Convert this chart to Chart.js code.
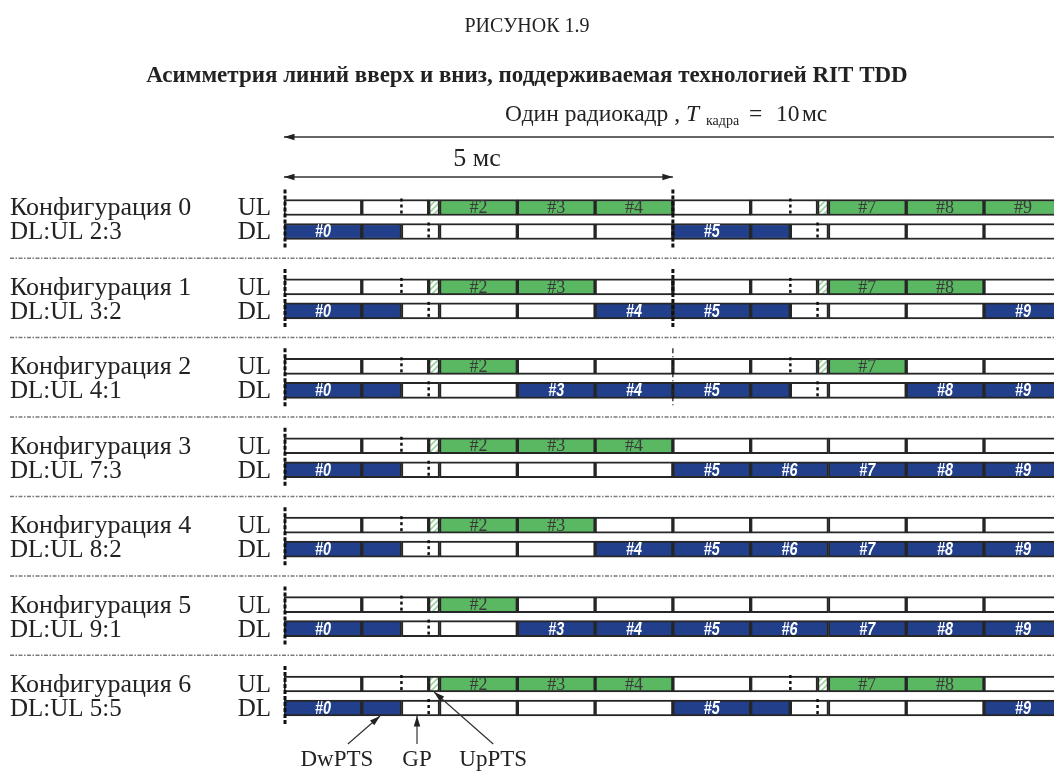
<!DOCTYPE html>
<html>
<head>
<meta charset="utf-8">
<script src="https://cdn.jsdelivr.net/npm/chart.js@4.4.0/dist/chart.umd.min.js"></script>
<style>
html, body { margin: 0; padding: 0; background: #fff; overflow: hidden; }
</style>
</head>
<body>
<canvas id="tdd" width="1054" height="771"></canvas>
<script>
// данные рисунка
var configNames = ['Конфигурация 0', 'Конфигурация 1', 'Конфигурация 2', 'Конфигурация 3',
                   'Конфигурация 4', 'Конфигурация 5', 'Конфигурация 6'];
var ratioLabels = ['DL:UL 2:3', 'DL:UL 3:2', 'DL:UL 4:1', 'DL:UL 7:3',
                   'DL:UL 8:2', 'DL:UL 9:1', 'DL:UL 5:5'];
// D = вниз, U = вверх, S = специальный подкадр
var subframeTypes = ['DSUUUDSUUU', 'DSUUDDSUUD', 'DSUDDDSUDD', 'DSUUUDDDDD',
                     'DSUUDDDDDD', 'DSUDDDDDDD', 'DSUUUDSUUD'];
// граница полукадра: 2 = жирная, 1 = тонкая, 0 = нет
var halfFrameMark = [2, 2, 1, 0, 0, 0, 0];
var dwptsEnd = 0.51;   // доля подкадра
var uptsStart = 0.86;
var halfFrame = 5;     // мс
var visibleEnd = 9.9;  // мс, правый край картинки
var topTitle = 'РИСУНОК 1.9';
var mainTitle = 'Асимметрия линий вверх и вниз, поддерживаемая технологией RIT TDD';
var frameText = ['Один радиокадр ,', 'T', 'кадра', '=', '10', 'мс'];
var halfText = '5 мс';
var partNames = ['DwPTS', 'GP', 'UpPTS'];
var partTargets = [1.235, 1.71, 1.93];  // мс, куда указывают стрелки
var partTextAt = [0.68, 1.71, 2.69];

var configStep = 3.3125;
var green = '#5bb862';
var blue = '#213f8b';
var edge = '#262626';

function hatch() {
    var c = document.createElement('canvas');
    c.width = 6; c.height = 6;
    var g = c.getContext('2d');
    g.fillStyle = '#fff';
    g.fillRect(0, 0, 6, 6);
    g.strokeStyle = '#9ed39f';
    g.lineWidth = 1.6;
    g.beginPath();
    g.moveTo(-1, 7); g.lineTo(7, -1);
    g.moveTo(-4, 4); g.lineTo(4, -4);
    g.moveTo(2, 10); g.lineTo(10, 2);
    g.stroke();
    return g.createPattern(c, 'repeat');
}

var ulFree = [], ulBusy = [], ulPilot = [], dlBusy = [], dlFree = [];
for (var c = 0; c < subframeTypes.length; c++) {
    var yUL = c * configStep;
    var yDL = yUL + 1;
    for (var n = 0; n < 10; n++) {
        var t = subframeTypes[c].charAt(n);
        if (t == 'U') {
            ulBusy.push({x: [n, n + 1], y: yUL, label: '#' + n});
            dlFree.push({x: [n, n + 1], y: yDL});
        } else if (t == 'D') {
            ulFree.push({x: [n, n + 1], y: yUL});
            dlBusy.push({x: [n, n + 1], y: yDL, label: '#' + n});
        } else {
            ulFree.push({x: [n, n + uptsStart], y: yUL});
            ulPilot.push({x: [n + uptsStart, n + 1], y: yUL});
            dlBusy.push({x: [n, n + dwptsEnd], y: yDL});
            dlFree.push({x: [n + dwptsEnd, n + 1], y: yDL});
        }
    }
}

function bars(data, fill) {
    return {
        data: data,
        backgroundColor: fill,
        borderColor: edge,
        borderWidth: 2,
        borderSkipped: false,
        barThickness: 16,
        grouped: false
    };
}

function arrowHead(ctx, x1, y1, x2, y2) {
    var a = Math.atan2(y2 - y1, x2 - x1);
    ctx.beginPath();
    ctx.moveTo(x2, y2);
    ctx.lineTo(x2 - 11 * Math.cos(a - 0.3), y2 - 11 * Math.sin(a - 0.3));
    ctx.lineTo(x2 - 11 * Math.cos(a + 0.3), y2 - 11 * Math.sin(a + 0.3));
    ctx.closePath();
    ctx.fill();
}

function arrow(ctx, x1, y1, x2, y2, both) {
    ctx.beginPath();
    ctx.moveTo(x1, y1);
    ctx.lineTo(x2, y2);
    ctx.stroke();
    arrowHead(ctx, x1, y1, x2, y2);
    if (both) arrowHead(ctx, x2, y2, x1, y1);
}

function vdash(ctx, x, y1, y2, width, dash) {
    ctx.save();
    ctx.lineWidth = width;
    ctx.setLineDash(dash);
    ctx.beginPath();
    ctx.moveTo(x, y1);
    ctx.lineTo(x, y2);
    ctx.stroke();
    ctx.restore();
}

var decor = {
    id: 'decor',
    beforeDraw: function(chart) {
        var ctx = chart.ctx;
        ctx.save();
        ctx.fillStyle = '#fff';
        ctx.fillRect(0, 0, chart.width, chart.height);
        ctx.restore();
    },
    afterDatasetsDraw: function(chart) {
        var ctx = chart.ctx;
        var xs = chart.scales.x, ys = chart.scales.y;
        ctx.save();
        ctx.textAlign = 'center';
        ctx.textBaseline = 'middle';
        // номера подкадров
        chart.data.datasets.forEach(function(ds, i) {
            var meta = chart.getDatasetMeta(i);
            ds.data.forEach(function(d, j) {
                if (!d.label) return;
                var el = meta.data[j];
                var cx = (el.x + el.base) / 2;
                if (ds.backgroundColor == blue) {
                    ctx.save();
                    ctx.fillStyle = '#fff';
                    ctx.font = 'bold italic 18px "Liberation Sans", sans-serif';
                    ctx.translate(cx, el.y + 1);
                    ctx.scale(0.8, 1);
                    ctx.fillText(d.label, 0, 0);
                    ctx.restore();
                } else {
                    ctx.fillStyle = '#3a3a3a';
                    ctx.font = '18px "Liberation Serif", serif';
                    ctx.fillText(d.label, cx, el.y + 1);
                }
            });
        });
        // пунктиры внутри специальных подкадров и границы кадров
        ctx.strokeStyle = '#111';
        for (var c = 0; c < subframeTypes.length; c++) {
            var pu = ys.getPixelForValue(c * configStep);
            var pd = ys.getPixelForValue(c * configStep + 1);
            for (var n = 0; n < 10; n++) {
                if (subframeTypes[c].charAt(n) != 'S') continue;
                vdash(ctx, xs.getPixelForValue(n + dwptsEnd), pu - 9, pu + 9, 2.5, [3, 3]);
                vdash(ctx, xs.getPixelForValue(n + uptsStart), pd - 9, pd + 9, 2.5, [3, 3]);
            }
            vdash(ctx, xs.getPixelForValue(0) + 1, pu - 18, pd + 16, 3, [4, 2]);
            if (halfFrameMark[c] == 2) {
                vdash(ctx, xs.getPixelForValue(halfFrame), pu - 18, pd + 16, 3, [4, 2]);
            } else if (halfFrameMark[c] == 1) {
                vdash(ctx, xs.getPixelForValue(halfFrame), pu - 18, pd + 16, 1.2, [5, 3, 1, 3]);
            }
        }
        ctx.restore();
    },
    afterDraw: function(chart) {
        var ctx = chart.ctx;
        var xs = chart.scales.x, ys = chart.scales.y;
        var x0 = xs.getPixelForValue(0);
        ctx.save();
        ctx.fillStyle = '#222';
        ctx.textBaseline = 'alphabetic';
        ctx.textAlign = 'center';
        ctx.font = '20px "Liberation Serif", serif';
        ctx.fillText(topTitle, 527, 32);
        ctx.font = 'bold 23px "Liberation Serif", serif';
        ctx.fillText(mainTitle, 527, 82);

        // подпись радиокадра с индексом
        ctx.textAlign = 'left';
        var big = '23.5px "Liberation Serif", serif';
        var py = 121;
        ctx.font = big;
        ctx.fillText(frameText[0], 505, py);
        ctx.font = 'italic 23.5px "Liberation Serif", serif';
        ctx.fillText(frameText[1], 686, py);
        ctx.font = '14px "Liberation Serif", serif';
        ctx.fillText(frameText[2], 706, py + 4);
        ctx.font = big;
        ctx.fillText(frameText[3], 749, py);
        ctx.fillText(frameText[4], 776, py);
        ctx.fillText(frameText[5], 802, py);

        ctx.textAlign = 'center';
        ctx.font = '26px "Liberation Serif", serif';
        ctx.fillText(halfText, 477, 166);

        ctx.strokeStyle = '#333';
        ctx.fillStyle = '#222';
        ctx.lineWidth = 1.5;
        arrow(ctx, chart.width, 137, x0, 137, false);
        arrow(ctx, x0, 177, xs.getPixelForValue(halfFrame), 177, true);

        // подписи строк
        ctx.fillStyle = '#222';
        for (var c = 0; c < configNames.length; c++) {
            var pu = ys.getPixelForValue(c * configStep);
            var pd = ys.getPixelForValue(c * configStep + 1);
            ctx.textAlign = 'left';
            ctx.font = '26px "Liberation Serif", serif';
            ctx.fillText(configNames[c], 10, pu + 8);
            ctx.font = '25px "Liberation Serif", serif';
            ctx.fillText(ratioLabels[c], 10, pd + 8);
            ctx.textAlign = 'right';
            ctx.fillText('UL', 271, pu + 8);
            ctx.fillText('DL', 271, pd + 8);
            if (c > 0) {
                var sep = (ys.getPixelForValue((c - 1) * configStep + 1) + pu) / 2 - 1;
                ctx.save();
                ctx.strokeStyle = '#7a7a7a';
                ctx.lineWidth = 1.5;
                ctx.setLineDash([4, 1.5, 1.5, 1.5]);
                ctx.beginPath();
                ctx.moveTo(10, sep);
                ctx.lineTo(chart.width, sep);
                ctx.stroke();
                ctx.restore();
            }
        }

        // стрелки DwPTS, GP, UpPTS под последней конфигурацией
        var last = configNames.length - 1;
        var lu = ys.getPixelForValue(last * configStep);
        var ld = ys.getPixelForValue(last * configStep + 1);
        var tips = [ld + 8, ld + 8, lu + 8];
        ctx.textAlign = 'center';
        ctx.font = '23px "Liberation Serif", serif';
        ctx.lineWidth = 1.2;
        for (var k = 0; k < partNames.length; k++) {
            var tx = xs.getPixelForValue(partTextAt[k]);
            ctx.fillText(partNames[k], tx, 766);
            var sx = k == 0 ? tx + 11 : tx;
            arrow(ctx, sx, 744, xs.getPixelForValue(partTargets[k]), tips[k], false);
        }
        ctx.restore();
    }
};

var ctx = document.getElementById('tdd').getContext('2d');
var tddChart = new Chart(ctx, {
    type: 'bar',
    data: {
        datasets: [
            bars(ulFree, '#fff'),
            bars(ulBusy, green),
            bars(ulPilot, hatch()),
            bars(dlBusy, blue),
            bars(dlFree, '#fff')
        ]
    },
    options: {
        indexAxis: 'y',
        responsive: false,
        animation: false,
        events: [],
        layout: { padding: { left: 284, right: 0, top: 183.5, bottom: 39 } },
        scales: {
            x: { type: 'linear', min: 0, max: visibleEnd, display: false },
            y: { type: 'linear', offset: false, min: -1, max: (subframeTypes.length - 1) * configStep + 2,
                 reverse: true, display: false }
        },
        plugins: {
            legend: { display: false },
            tooltip: { enabled: false },
            title: { display: false }
        }
    },
    plugins: [decor]
});
</script>
</body>
</html>
